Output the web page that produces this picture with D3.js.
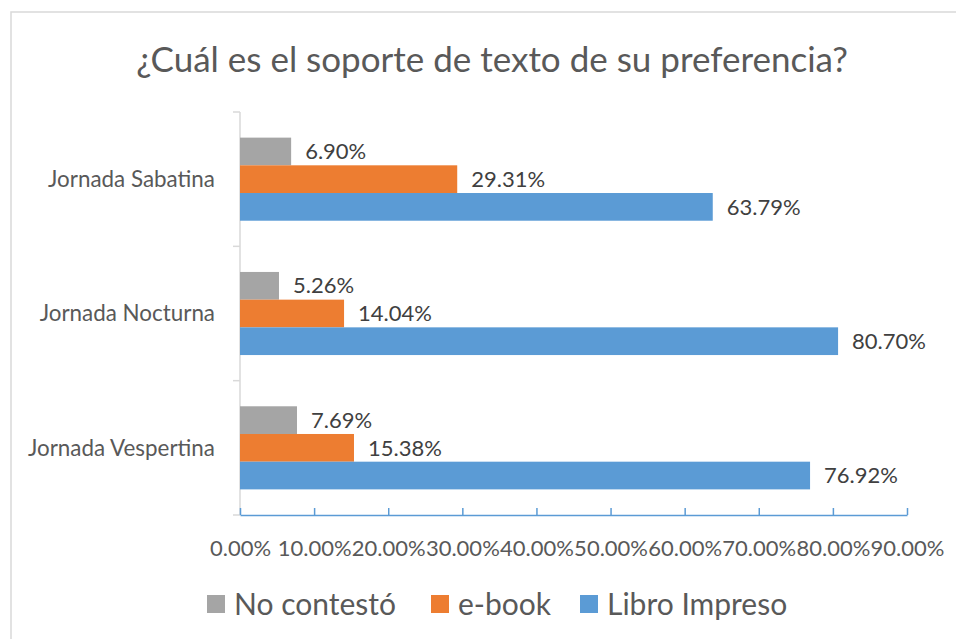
<!DOCTYPE html>
<html lang="es">
<head>
  <meta charset="utf-8">
  <title>Soporte de texto</title>
  <script src="https://cdn.jsdelivr.net/npm/d3@7"></script>
  <style>
    body { margin: 0; background: #fff; font-family: Lato, "Open Sans", sans-serif; }
    .tick text { font-family: Lato, sans-serif; }
  </style>
</head>
<body>
<script>
  // data
  var categories = ["Jornada Sabatina", "Jornada Nocturna", "Jornada Vespertina"];
  var seriesNames = ["No contestó", "e-book", "Libro Impreso"];
  var noContesto = [6.90, 5.26, 7.69];
  var ebook = [29.31, 14.04, 15.38];
  var libroImpreso = [63.79, 80.70, 76.92];
  var xTicks = [0, 10, 20, 30, 40, 50, 60, 70, 80, 90];

  var colors = ["#a5a5a5", "#ed7d31", "#5b9bd5"];
  var values = [noContesto, ebook, libroImpreso];

  var W = 956, H = 639;
  var plotL = 240, plotR = 907, plotT = 112, plotB = 515;

  var svg = d3.select("body").append("svg")
    .attr("width", W).attr("height", H);

  // chart border
  svg.append("rect")
    .attr("x", 11).attr("y", 12)
    .attr("width", 1000).attr("height", 700)
    .attr("fill", "none")
    .attr("stroke", "#d9d9d9")
    .attr("stroke-width", 1.5);

  svg.append("text")
    .attr("x", 492).attr("y", 72)
    .attr("text-anchor", "middle")
    .attr("font-size", 35)
    .attr("fill", "#595959")
    .text("¿Cuál es el soporte de texto de su preferencia?");

  var x = d3.scaleLinear().domain([0, 90]).range([plotL, plotR]);
  var y0 = d3.scaleBand().domain(categories).range([plotT, plotB]);
  var y1 = d3.scaleBand().domain(seriesNames)
    .range([0, y0.bandwidth()])
    .paddingInner(0).paddingOuter(0.925);

  // y axis (gray line with ticks at category boundaries)
  var yAxis = svg.append("g");
  yAxis.append("line")
    .attr("x1", plotL).attr("x2", plotL)
    .attr("y1", plotT).attr("y2", plotB)
    .attr("stroke", "#d9d9d9").attr("stroke-width", 1.5);
  yAxis.selectAll(".bnd")
    .data(d3.range(categories.length + 1))
    .enter().append("line")
    .attr("x1", plotL - 7).attr("x2", plotL)
    .attr("y1", function(i) { return plotT + i * y0.step(); })
    .attr("y2", function(i) { return plotT + i * y0.step(); })
    .attr("stroke", "#d9d9d9").attr("stroke-width", 1.5);
  yAxis.selectAll(".cat")
    .data(categories)
    .enter().append("text")
    .attr("x", 215)
    .attr("y", function(d) { return y0(d) + y0.bandwidth() / 2; })
    .attr("dy", "0.35em")
    .attr("text-anchor", "end")
    .attr("font-size", 22.4)
    .attr("fill", "#595959")
    .text(function(d) { return d; });

  // bars
  var groups = svg.selectAll(".grp")
    .data(categories)
    .enter().append("g")
    .attr("transform", function(d) { return "translate(0," + y0(d) + ")"; });

  groups.each(function(cat, ci) {
    var g = d3.select(this);
    seriesNames.forEach(function(s, si) {
      var v = values[si][ci];
      g.append("rect")
        .attr("x", x(0))
        .attr("y", y1(s))
        .attr("width", x(v) - x(0))
        .attr("height", y1.bandwidth())
        .attr("fill", colors[si]);
      g.append("text")
        .attr("x", x(v) + 14)
        .attr("y", y1(s) + y1.bandwidth() / 2)
        .attr("dy", "0.35em")
        .attr("font-size", 22)
        .attr("fill", "#404040")
        .text(v.toFixed(2) + "%");
    });
  });

  // x axis
  var xAxis = d3.axisBottom(x)
    .tickValues(xTicks)
    .tickSizeInner(-7)
    .tickSizeOuter(0)
    .tickPadding(25)
    .tickFormat(function(d) { return d.toFixed(2) + "%"; });

  var gx = svg.append("g")
    .attr("transform", "translate(0," + plotB + ")")
    .call(xAxis);
  gx.select(".domain").attr("stroke", "#5b9bd5").attr("stroke-width", 1.5);
  gx.selectAll(".tick line").attr("stroke", "#5b9bd5").attr("stroke-width", 1.5);
  gx.selectAll(".tick text")
    .attr("font-size", 22)
    .attr("fill", "#595959");

  // legend
  var legX = [207, 431, 580];
  var legend = svg.selectAll(".leg")
    .data(seriesNames)
    .enter().append("g")
    .attr("transform", function(d, i) { return "translate(" + legX[i] + ",595)"; });
  legend.append("rect")
    .attr("width", 18).attr("height", 18)
    .attr("fill", function(d, i) { return colors[i]; });
  legend.append("text")
    .attr("x", 27).attr("y", 9)
    .attr("dy", "0.35em")
    .attr("font-size", 30)
    .attr("fill", "#595959")
    .text(function(d) { return d; });
</script>
</body>
</html>
